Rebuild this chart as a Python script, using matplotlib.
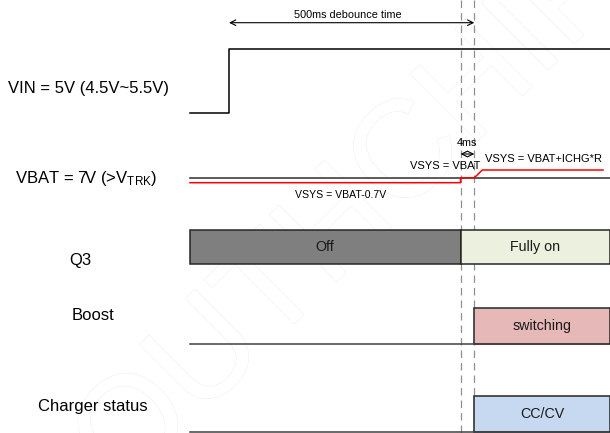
import matplotlib.pyplot as plt
import matplotlib.patheffects as pe

plt.rcParams['font.family'] = ['Liberation Sans', 'DejaVu Sans']
plt.rcParams['mathtext.fontset'] = 'custom'
plt.rcParams['mathtext.rm'] = 'Liberation Sans'
plt.rcParams['mathtext.it'] = 'Liberation Sans'

# Signal traces (x = timeline position, y = level on the drawing)
vin_x = [190, 229, 229, 610]
vin_y = [112.5, 112.5, 48.5, 48.5]
vbat_x = [190, 610]
vbat_y = [178.3, 178.3]
vsys_x = [190, 460.5, 460.5, 474.3, 482.3, 603]
vsys_y = [182.7, 182.7, 177.8, 177.8, 170, 170]

# Event markers
t_q3_on = 460.5
t_boost_on = 474.3
t_vin_rise = 229
t_end = 610
t_start = 190

# Row labels
row_labels = ['VIN = 5V (4.5V~5.5V)', r'VBAT = 7V (>V$_{\mathrm{TRK}}$)', 'Q3', 'Boost', 'Charger status']
row_label_x = [89, 86, 80, 93, 93]
row_label_y = [88, 179, 261, 316, 406]

# State boxes: (start, end, top, bottom, text, colour)
q3_states = [(t_start, t_q3_on, 230, 264, 'Off', '#7f7f7f'),
             (t_q3_on, t_end, 230, 264, 'Fully on', '#ebf1de')]
boost_states = [(t_boost_on, t_end, 307.7, 344, 'switching', '#e6b9b8')]
charger_states = [(t_boost_on, t_end, 396, 431.7, 'CC/CV', '#c6d9f1')]
baselines_y = [344, 431.7]

fig = plt.figure(figsize=(6.1, 4.33), dpi=100)
ax = fig.add_axes([0, 0, 1, 1])
ax.set_xlim(0, 610)
ax.set_ylim(433, 0)
ax.axis('off')

# watermark, faint and behind everything
ax.text(320, 248, 'SOUTHCHIP', ha='center', va='center', rotation=45,
        rotation_mode='anchor', fontsize=99, color='white', zorder=0,
        path_effects=[pe.withStroke(linewidth=0.8, foreground='#ececec'), pe.Normal()])

# dashed event lines
for xv in [t_q3_on, t_boost_on]:
    ax.plot([xv, xv], [0, 433], color='#909090', lw=0.9, ls=(0, (6, 4)), zorder=1)

ax.plot(vin_x, vin_y, color='black', lw=1.1, zorder=3)
ax.plot(vbat_x, vbat_y, color='#404040', lw=1.2, zorder=3)
ax.plot(vsys_x, vsys_y, color='#ff0000', lw=1.1, zorder=4)

for y in baselines_y:
    ax.plot([t_start, t_end], [y, y], color='#404040', lw=1.1, zorder=3)

for states in [q3_states, boost_states, charger_states]:
    for x0, x1, top, bot, txt, col in states:
        ax.add_patch(plt.Rectangle((x0, top), x1 - x0, bot - top, facecolor=col,
                                   edgecolor='#262626', lw=1.1, zorder=2))
        ax.text((x0 + x1) / 2, (top + bot) / 2, txt, ha='center', va='center',
                fontsize=10.3, color='#1a1a1a', zorder=5)

for txt, x, y in zip(row_labels, row_label_x, row_label_y):
    ax.text(x, y, txt, ha='center', va='center', fontsize=12, color='black')

# debounce arrow
ax.annotate('', xy=(t_vin_rise, 22.7), xytext=(t_boost_on, 22.7),
            arrowprops=dict(arrowstyle='<->', color='black', lw=0.8, shrinkA=0, shrinkB=0))
ax.text(347.5, 15, '500ms debounce time', ha='center', va='center', fontsize=7.8)

# 4ms arrow
ax.annotate('', xy=(t_q3_on, 154), xytext=(t_boost_on, 154),
            arrowprops=dict(arrowstyle='<->', color='black', lw=0.8, shrinkA=0, shrinkB=0))
ax.text(466.7, 143.3, '4ms', ha='center', va='center', fontsize=7.8)

ax.text(445.3, 165.7, 'VSYS = VBAT', ha='center', va='center', fontsize=8)
ax.text(543.8, 159.3, 'VSYS = VBAT+ICHG*R', ha='center', va='center', fontsize=8)
ax.text(340.5, 195, 'VSYS = VBAT-0.7V', ha='center', va='center', fontsize=7.6)

fig.savefig('out.png', dpi=100)
